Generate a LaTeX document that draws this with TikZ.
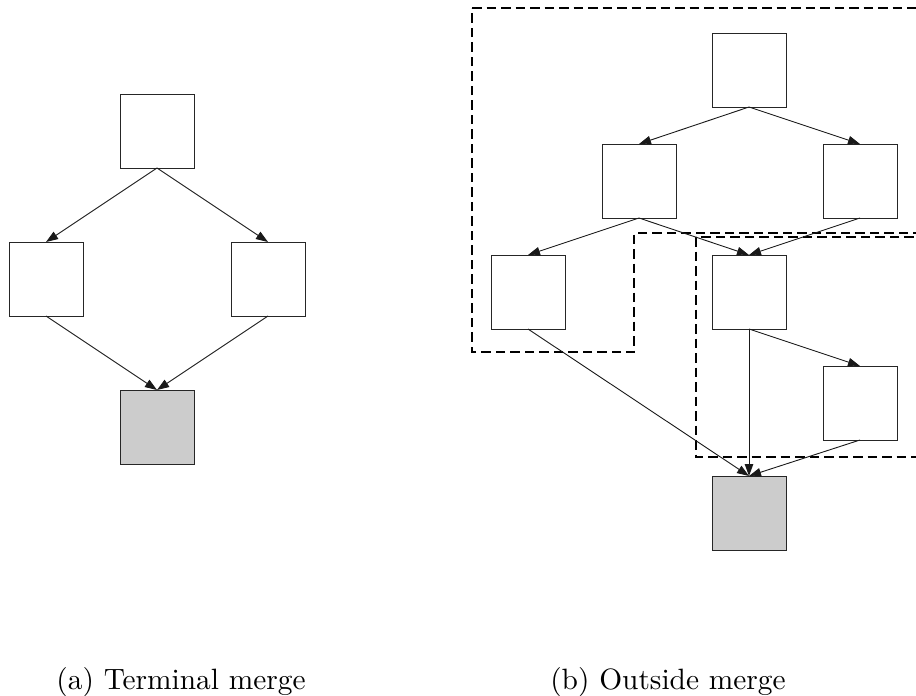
\documentclass[tikz,border=0pt]{standalone}
\usepackage{fontspec}
\newfontfamily\capfont{lmroman10-regular}[Extension=.otf]
\usetikzlibrary{arrows.meta}
\tikzset{
  blk/.style={draw=black!85, line width=1pt, minimum width=74pt, minimum height=74pt, inner sep=0pt, outer sep=0pt, fill=white},
  term/.style={blk, fill=black!20},
  edge/.style={draw=black!90, line width=0.9pt, -{Triangle[length=12pt,width=8.5pt]}},
  cluster/.style={draw=black, line width=2pt, dash pattern=on 9.5pt off 5pt},
  captxt/.style={font=\capfont\fontsize{29.4}{35}\selectfont, anchor=base, inner sep=0pt}
}
\begin{document}
\begin{tikzpicture}[x=1pt,y=-1pt]
\useasboundingbox (0,0) rectangle (916,696);
\clip (0,0) rectangle (916,696);
% clusters
\draw[cluster] (472,8) -- (940,8) -- (940,233) -- (634,233) -- (634,352) -- (472,352) -- cycle;
\draw[cluster] (696,237) rectangle (940,457);
% left diagram
\node[blk] (a1) at (157,131) {};
\node[blk] (a2) at (46,279) {};
\node[blk] (a3) at (268,279) {};
\node[term] (a4) at (157,427) {};
\draw[edge] (a1.south) -- (a2.north);
\draw[edge] (a1.south) -- (a3.north);
\draw[edge] (a2.south) -- (a4.north);
\draw[edge] (a3.south) -- (a4.north);
% right diagram
\node[blk] (b1) at (749,70) {};
\node[blk] (b2) at (639,181) {};
\node[blk] (b3) at (860,181) {};
\node[blk] (b4) at (528,292) {};
\node[blk] (b5) at (749,292) {};
\node[blk] (b6) at (860,403) {};
\node[term] (b7) at (749,513) {};
\draw[edge] (b1.south) -- (b2.north);
\draw[edge] (b1.south) -- (b3.north);
\draw[edge] (b2.south) -- (b4.north);
\draw[edge] (b2.south) -- (b5.north);
\draw[edge] (b3.south) -- (b5.north);
\draw[edge] (b4.south) -- (b7.north);
\draw[edge] (b5.south) -- (b7.north);
\draw[edge] (b5.south) -- (b6.north);
\draw[edge] (b6.south) -- (b7.north);
% captions
\node[captxt] (ca) at (181,689) {(a) Terminal merge};
\node[captxt] (cb) at (668,689) {(b) Outside merge};
\end{tikzpicture}
\end{document}
